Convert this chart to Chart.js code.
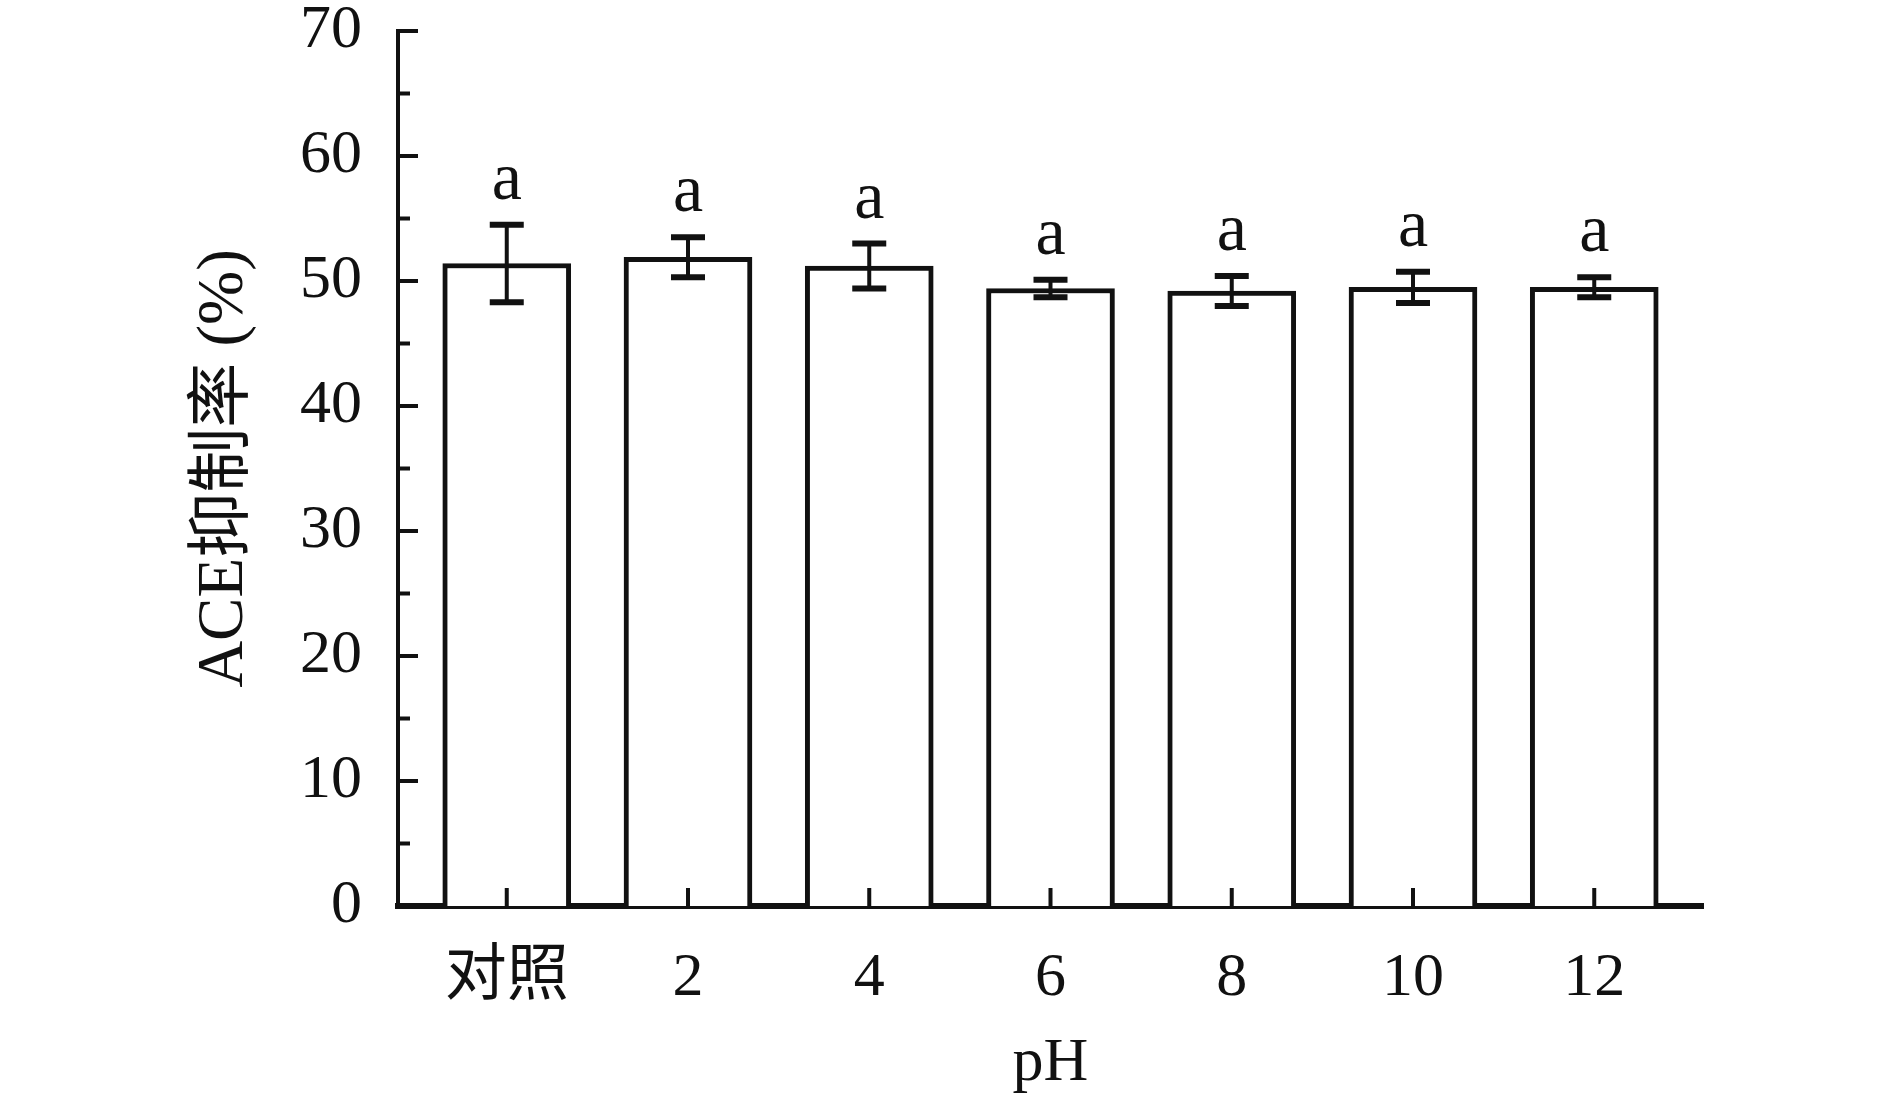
<!DOCTYPE html>
<html>
<head>
<meta charset="utf-8">
<script src="https://cdn.jsdelivr.net/npm/chart.js@4.4.0/dist/chart.umd.min.js"></script>
<style>
  html, body { margin: 0; padding: 0; background: #fff; }
  #wrap { width: 1890px; height: 1101px; }
</style>
</head>
<body>
<div id="wrap"><canvas id="aceChart" width="1890" height="1101"></canvas></div>
<script>
// 数据
const categories = ['对照', '2', '4', '6', '8', '10', '12'];
const inhibition = [51.4, 51.9, 51.2, 49.4, 49.2, 49.5, 49.5];
const errors = [3.1, 1.6, 1.8, 0.7, 1.2, 1.25, 0.8];
const letters = ['a', 'a', 'a', 'a', 'a', 'a', 'a'];
const yTicks = [0, 10, 20, 30, 40, 50, 60, 70];

const serif = "'Liberation Serif', 'Times New Roman', 'Noto Sans CJK SC', serif";

// 误差线、字母和向内的刻度
const extras = {
    id: 'extras',
    afterDatasetsDraw(chart) {
        const ctx = chart.ctx;
        const x = chart.scales.x;
        const y = chart.scales.y;
        const bars = chart.getDatasetMeta(0).data;
        ctx.save();
        ctx.strokeStyle = '#111';
        ctx.fillStyle = '#111';

        bars.forEach((bar, i) => {
            const top = y.getPixelForValue(inhibition[i] + errors[i]);
            const bot = y.getPixelForValue(inhibition[i] - errors[i]);
            ctx.lineWidth = 4;
            ctx.beginPath();
            ctx.moveTo(bar.x, top);
            ctx.lineTo(bar.x, bot);
            ctx.stroke();
            ctx.lineWidth = 6;
            ctx.beginPath();
            ctx.moveTo(bar.x - 17, top);
            ctx.lineTo(bar.x + 17, top);
            ctx.moveTo(bar.x - 17, bot);
            ctx.lineTo(bar.x + 17, bot);
            ctx.stroke();

            ctx.font = '68px ' + serif;
            ctx.textAlign = 'center';
            ctx.textBaseline = 'alphabetic';
            ctx.fillText(letters[i], bar.x, top - 26);
        });

        // y 轴刻度（主刻度 10，次刻度 5）
        ctx.lineWidth = 4;
        ctx.beginPath();
        for (let v = 0; v <= 70; v += 5) {
            const py = y.getPixelForValue(v);
            const len = v % 10 === 0 ? 20 : 12;
            ctx.moveTo(y.right, py);
            ctx.lineTo(y.right + len, py);
        }
        // x 轴刻度
        categories.forEach((c, i) => {
            const px = x.getPixelForValue(i);
            ctx.moveTo(px, x.top);
            ctx.lineTo(px, x.top - 18);
        });
        ctx.stroke();
        ctx.restore();
    }
};

const ctx = document.getElementById('aceChart').getContext('2d');
new Chart(ctx, {
    type: 'bar',
    data: {
        datasets: [{
            data: inhibition.map((v, i) => ({ x: i, y: v })),
            backgroundColor: '#ffffff',
            borderColor: '#111111',
            borderWidth: 5,
            borderSkipped: 'bottom',
            barThickness: 128
        }]
    },
    options: {
        responsive: false,
        animation: false,
        layout: { padding: { top: 31, right: 187, left: 0, bottom: 0 } },
        plugins: {
            legend: { display: false },
            tooltip: { enabled: false }
        },
        scales: {
            x: {
                type: 'linear',
                offset: false,
                min: -0.6,
                max: 6.6,
                afterBuildTicks: (scale) => {
                    scale.ticks = categories.map((c, i) => ({ value: i }));
                },
                afterFit: (scale) => {
                    scale.height = 195;
                    scale.paddingLeft = 0;
                    scale.paddingRight = 0;
                },
                grid: { display: false, drawTicks: false },
                border: { display: true, color: '#111', width: 6 },
                ticks: {
                    padding: 36,
                    color: '#111',
                    font: { family: serif, size: 62 },
                    callback: (v) => categories[v]
                },
                title: {
                    display: true,
                    text: 'pH',
                    color: '#111',
                    font: { family: serif, size: 62 },
                    padding: { top: 0, bottom: 0 }
                }
            },
            y: {
                min: 0,
                max: 70,
                afterBuildTicks: (scale) => {
                    scale.ticks = yTicks.map(v => ({ value: v }));
                },
                afterFit: (scale) => {
                    scale.width = 398;
                    scale.paddingTop = 0;
                    scale.paddingBottom = 0;
                },
                grid: { display: false, drawTicks: false },
                border: { display: true, color: '#111', width: 4 },
                ticks: {
                    padding: 36,
                    color: '#111',
                    font: { family: serif, size: 62 }
                },
                title: {
                    display: true,
                    text: 'ACE抑制率 (%)',
                    color: '#111',
                    font: { family: serif, size: 65 },
                    padding: { top: 186, bottom: 0 }
                }
            }
        }
    },
    plugins: [extras]
});
</script>
</body>
</html>
